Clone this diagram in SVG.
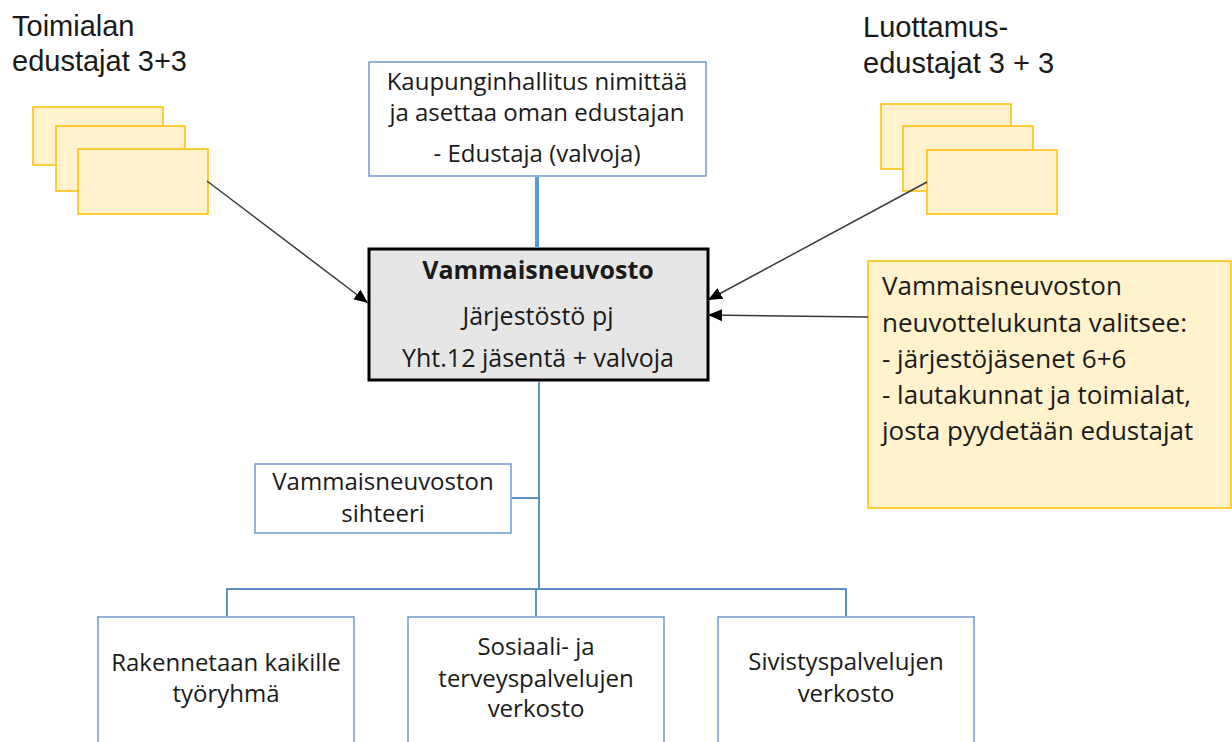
<svg xmlns="http://www.w3.org/2000/svg" width="1232" height="742" viewBox="0 0 1232 742">
  <style>
    .title { font-family: "Liberation Sans", Arial, sans-serif; font-size: 29px; fill: #1a1a1a; }
    .t { font-family: "Open Sans", "Noto Sans", sans-serif; font-size: 24px; fill: #1a1a1a; }
    .c { text-anchor: middle; }
    .blue { fill: #ffffff; stroke: #6d9bd1; stroke-width: 1.5; }
    .yel { fill: #fff2cc; stroke: #ffc000; stroke-width: 1.5; }
    .conn { stroke: #5b8fc8; stroke-width: 2; fill: none; }
    .arrow { stroke: #3a3a3a; stroke-width: 1.5; fill: none; marker-end: url(#ah); }
  </style>
  <defs>
    <marker id="ah" markerUnits="userSpaceOnUse" markerWidth="16" markerHeight="12" refX="14" refY="6" orient="auto">
      <path d="M0,0 L14,6 L0,12 Z" fill="#000000"/>
    </marker>
  </defs>
  <rect width="1232" height="742" fill="#ffffff"/>

  <g id="toimialan">
    <text class="title" x="12" y="36">Toimialan</text>
    <text class="title" x="12" y="71">edustajat 3+3</text>
    <rect class="yel" x="33" y="107" width="130" height="58"/>
    <rect class="yel" x="56" y="126" width="129" height="65"/>
    <rect class="yel" x="78" y="149" width="130" height="65"/>
  </g>

  <g id="luottamus">
    <text class="title" x="863" y="37">Luottamus-</text>
    <text class="title" x="863" y="73">edustajat 3 + 3</text>
    <rect class="yel" x="881" y="104" width="130" height="65"/>
    <rect class="yel" x="903" y="126" width="130" height="65"/>
    <rect class="yel" x="927" y="150" width="130" height="64"/>
  </g>

  <g id="kaupunginhallitus">
    <rect class="blue" x="369" y="62" width="337" height="114"/>
    <text class="t c" x="537" y="90">Kaupunginhallitus nimittää</text>
    <text class="t c" x="537" y="121">ja asettaa oman edustajan</text>
    <text class="t c" x="537" y="162">- Edustaja (valvoja)</text>
  </g>

  <g id="vammaisneuvosto">
    <rect x="369" y="249" width="339" height="131" fill="#e7e6e6" stroke="#000000" stroke-width="3"/>
    <text class="t c" x="538" y="279" style="font-weight:bold;font-size:25px">Vammaisneuvosto</text>
    <text class="t c" x="538" y="325" style="font-size:25px">Järjestöstö pj</text>
    <text class="t c" x="538" y="367" style="font-size:25px">Yht.12 jäsentä + valvoja</text>
  </g>

  <g id="neuvottelukunta">
    <rect class="yel" x="868" y="261" width="363" height="247"/>
    <text class="t" x="882" y="295" style="font-size:26px">Vammaisneuvoston</text>
    <text class="t" x="882" y="332" style="font-size:26px">neuvottelukunta valitsee:</text>
    <text class="t" x="882" y="368" style="font-size:26px">- järjestöjäsenet 6+6</text>
    <text class="t" x="882" y="404" style="font-size:26px">- lautakunnat ja toimialat,</text>
    <text class="t" x="882" y="440" style="font-size:26px">josta pyydetään edustajat</text>
  </g>

  <g id="sihteeri">
    <rect class="blue" x="255" y="464" width="256" height="69"/>
    <text class="t c" x="383" y="490">Vammaisneuvoston</text>
    <text class="t c" x="383" y="522">sihteeri</text>
  </g>

  <g id="tyoryhma">
    <rect class="blue" x="98" y="617" width="256" height="130"/>
    <text class="t c" x="226" y="671">Rakennetaan kaikille</text>
    <text class="t c" x="226" y="702">työryhmä</text>
  </g>

  <g id="sosiaali">
    <rect class="blue" x="408" y="617" width="256" height="130"/>
    <text class="t c" x="536" y="655">Sosiaali- ja</text>
    <text class="t c" x="536" y="687">terveyspalvelujen</text>
    <text class="t c" x="536" y="717">verkosto</text>
  </g>

  <g id="sivistys">
    <rect class="blue" x="718" y="617" width="256" height="130"/>
    <text class="t c" x="846" y="670">Sivistyspalvelujen</text>
    <text class="t c" x="846" y="702">verkosto</text>
  </g>

  <g id="connectors">
    <line x1="537" y1="177" x2="537" y2="248" stroke="#5b9bd5" stroke-width="4"/>
    <line class="conn" x1="539" y1="382" x2="539" y2="590"/>
    <line class="conn" x1="512" y1="498" x2="539" y2="498"/>
    <polyline class="conn" points="227,616 227,589 846,589 846,616"/>
    <line class="conn" x1="536" y1="589" x2="536" y2="616"/>
    <line class="arrow" x1="207" y1="181" x2="368" y2="303"/>
    <line class="arrow" x1="927" y1="182" x2="708" y2="300"/>
    <line class="arrow" x1="868" y1="317" x2="708" y2="315"/>
  </g>
</svg>
